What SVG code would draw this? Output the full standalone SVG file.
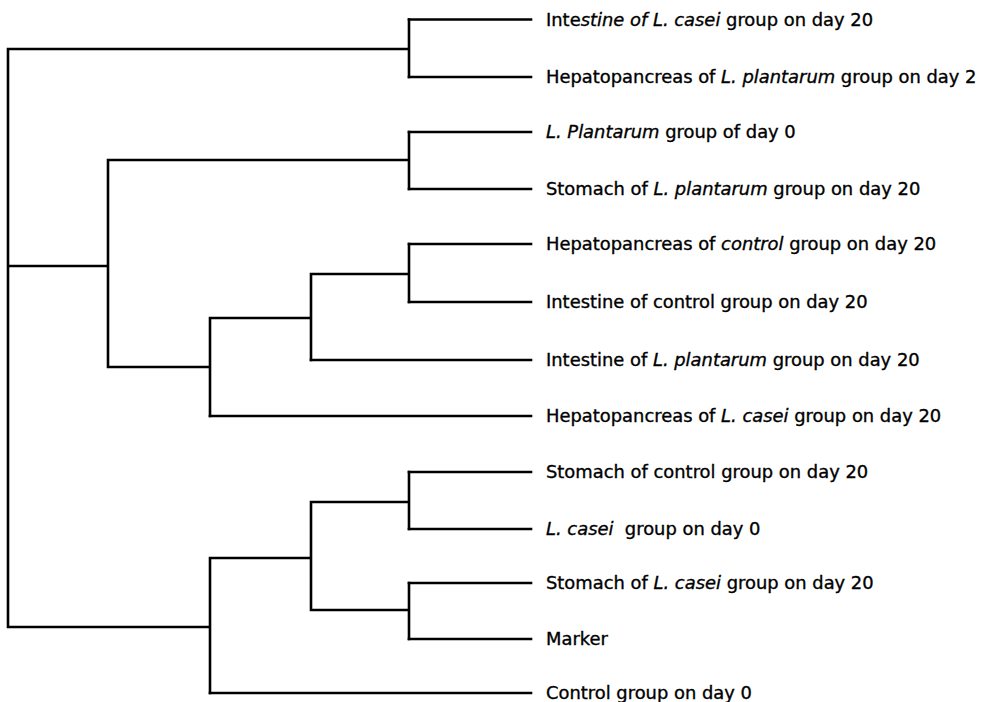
<svg xmlns="http://www.w3.org/2000/svg" width="990" height="702" viewBox="0 0 990 702">
<style>
.e{fill:none;stroke:#000;stroke-width:2.6;stroke-linecap:square}
.t{font-family:"DejaVu Sans","Liberation Sans",sans-serif;font-size:17.9px;fill:#000;stroke:#000;stroke-width:0.35}
.i{font-style:italic}
</style>
<rect width="990" height="702" fill="#fff"/>
<g id="connectors">
<path class="e" d="M409,19.5V77M409,49H8V627H210M8,266H108M108,160V367H210M409,132V189M409,160H108M409,244V302M409,274H311V360M311,318H210V416M210,558V693M210,558H311V502M311,558V610M409,472V529M409,502H311M409,583V639M409,610H311"/>
<path class="e" d="M409,19.5H531M409,77H531M409,132H531M409,189H531M409,244H531M409,302H531M311,360H531M210,416H531M409,472H531M409,529H531M409,583H531M409,639H531M210,693H531"/>
</g>
<g id="n1"><text class="t" x="546" y="25.5">Inte<tspan class="i">stine of L. casei</tspan> group on day 20</text></g>
<g id="n2"><text class="t" x="546" y="83">Hepatopancreas of <tspan class="i">L. plantarum</tspan> group on day 2</text></g>
<g id="n3"><text class="t" x="546" y="138"><tspan class="i">L. Plantarum</tspan> group of day 0</text></g>
<g id="n4"><text class="t" x="546" y="195">Stomach of <tspan class="i">L. plantarum</tspan> group on day 20</text></g>
<g id="n5"><text class="t" x="546" y="250">Hepatopancreas of <tspan class="i">control</tspan> group on day 20</text></g>
<g id="n6"><text class="t" x="546" y="308">Intestine of control group on day 20</text></g>
<g id="n7"><text class="t" x="546" y="366">Intestine of <tspan class="i">L. plantarum</tspan> group on day 20</text></g>
<g id="n8"><text class="t" x="546" y="422">Hepatopancreas of <tspan class="i">L. casei</tspan> group on day 20</text></g>
<g id="n9"><text class="t" x="546" y="478">Stomach of control group on day 20</text></g>
<g id="n10"><text class="t" x="546" y="535"><tspan class="i">L. casei</tspan>&#160; group on day 0</text></g>
<g id="n11"><text class="t" x="546" y="589">Stomach of <tspan class="i">L. casei</tspan> group on day 20</text></g>
<g id="n12"><text class="t" x="546" y="645">Marker</text></g>
<g id="n13"><text class="t" x="546" y="699">Control group on day 0</text></g>
</svg>
